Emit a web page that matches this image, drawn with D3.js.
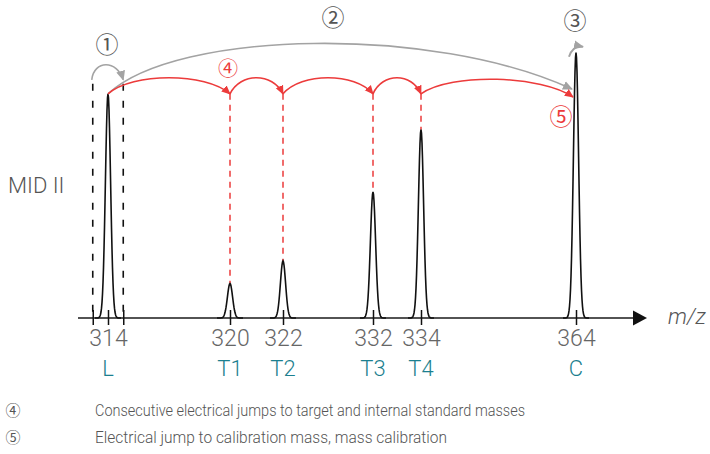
<!DOCTYPE html>
<html>
<head>
<meta charset="utf-8">
<script src="https://cdn.jsdelivr.net/npm/d3@7"></script>
<style>
  html, body { margin: 0; padding: 0; background: #fff; }
  svg { display: block; }
  .lbl { font-family: Roboto, "Liberation Sans", sans-serif; font-weight: 300; }
  .circ { font-family: "Noto Sans CJK JP", "DejaVu Sans", sans-serif; font-weight: 400; }
</style>
</head>
<body>
<svg id="chart" width="710" height="454"></svg>
<script>
// ---------------- data ----------------
const masses      = [314, 320, 322, 332, 334, 364];
const peakNames   = ["L", "T1", "T2", "T3", "T4", "C"];
const intensities = [84.5, 13, 21.5, 47.5, 71, 100];     // relative peak height (%)
const lockWindow  = [313.25, 314.75];                     // mass window around lock mass (L)
const jumpLevel   = 84.5;                                 // level of the electrical-jump arcs
const calibLevel  = 86.3;                                 // level where the magnet jump lands
const arriveLevel = 83.3;                                 // level where last electrical jump lands
const legendItems = [
  ["④", "Consecutive electrical jumps to target and internal standard masses"],
  ["⑤", "Electrical jump to calibration mass, mass calibration"]
];
const axisTitle = "m/z";
const rowLabel  = "MID II";

// ---------------- layout ----------------
const svg = d3.select("#chart");
const baseY = 318, topY = 52.7;
const slots = [108, 230, 283, 373, 421, 576];   // schematic (broken) mass axis positions
const x = d3.scaleLinear().domain(masses).range(slots);
const y = d3.scaleLinear().domain([0, 100]).range([baseY, topY]);
const RED = "#ec3b3b", GRAY = "#a3a3a3", TEAL = "#1c7f8f", TXT = "#666";

// markers
const defs = svg.append("defs");
function marker(id, color, size) {
  defs.append("marker").attr("id", id)
    .attr("viewBox", "0 0 10 10").attr("refX", 9).attr("refY", 5)
    .attr("markerWidth", size).attr("markerHeight", size)
    .attr("markerUnits", "userSpaceOnUse").attr("orient", "auto")
    .append("path").attr("d", "M0,0.5 L10,5 L0,9.5 z").attr("fill", color);
}
marker("arrRed", RED, 9);
marker("arrGray", GRAY, 10);

// lock-mass window dashed lines
svg.selectAll("line.win").data(lockWindow).join("line")
  .attr("x1", d => x(d)).attr("x2", d => x(d))
  .attr("y1", y(jumpLevel) - 10).attr("y2", baseY)
  .attr("stroke", "#111").attr("stroke-width", 1.6).attr("stroke-dasharray", "7,10");

// red dashed drop lines to target peaks
const targets = d3.range(1, 5);
svg.selectAll("line.drop").data(targets).join("line")
  .attr("x1", i => x(masses[i])).attr("x2", i => x(masses[i]))
  .attr("y1", y(jumpLevel)).attr("y2", i => y(intensities[i]))
  .attr("stroke", RED).attr("stroke-width", 1.5).attr("stroke-dasharray", "6,5");

// axis
const axisG = svg.append("g").attr("transform", `translate(0,${baseY})`);
axisG.append("line").attr("x1", 78).attr("x2", 636).attr("y1", 0).attr("y2", 0)
  .attr("stroke", "#1a1a1a").attr("stroke-width", 1.6);
axisG.append("path").attr("d", "M633,-7.5 L647,0 L633,7.5 z").attr("fill", "#111");
const axis = d3.axisBottom(x).tickValues(masses.concat(lockWindow))
  .tickFormat(d => masses.includes(d) ? d : "").tickSize(7).tickPadding(10);
const ax = axisG.append("g").call(axis);
ax.select(".domain").remove();
ax.selectAll(".tick line").attr("y1", -8).attr("y2", 7).attr("stroke", "#111").attr("stroke-width", 1.5);
ax.selectAll(".tick text").attr("class", "lbl").attr("fill", TXT)
  .attr("font-size", 23).attr("dy", "0.71em").attr("y", 12);

// peak labels
svg.selectAll("text.pname").data(peakNames).join("text")
  .attr("class", "lbl").attr("x", (d, i) => x(masses[i])).attr("y", 376)
  .attr("text-anchor", "middle").attr("font-size", 22).attr("fill", TEAL).text(d => d);

// peaks
const sigma = 2.6;
const offs = d3.range(-13, 13.01, 0.5);
const peakLine = d3.line().x(p => p[0]).y(p => p[1]);
svg.selectAll("path.peak").data(masses).join("path")
  .attr("d", (m, i) => peakLine(offs.map(dx =>
     [x(m) + dx, y(intensities[i] * Math.exp(-dx * dx / (2 * sigma * sigma)))])))
  .attr("fill", "none").attr("stroke", "#111").attr("stroke-width", 1.6);

// arcs
function arc(x0, y0, x1, y1, k, f0, f1) {
  const w = x1 - x0;
  return `M${x0},${y0} C${x0 + f0 * w},${y0 - k} ${x1 - f1 * w},${y1 - k} ${x1},${y1}`;
}
// gray magnet jump L -> C
svg.append("path")
  .attr("d", arc(x(masses[0]), y(jumpLevel), x(masses[5]) - 4, y(calibLevel), 64, 0.15, 0.3))
  .attr("fill", "none").attr("stroke", GRAY).attr("stroke-width", 1.6).attr("marker-end", "url(#arrGray)");
// red electrical jumps
const hops = d3.range(0, 5);
svg.selectAll("path.hop").data(hops).join("path")
  .attr("d", i => {
    const x0 = x(masses[i]), x1 = i === 4 ? x(masses[5]) - 3 : x(masses[i + 1]);
    const y1 = i === 4 ? y(arriveLevel) : y(jumpLevel);
    return arc(x0, y(jumpLevel), x1, y1, 21.5, 0.2, 0.2);
  })
  .attr("fill", "none").attr("stroke", RED).attr("stroke-width", 1.6).attr("marker-end", "url(#arrRed)");
// small gray arcs (scan over lock window, calibration)
const wy = y(jumpLevel) - 14;
svg.append("path")
  .attr("d", `M${x(lockWindow[0]) - 1},${wy} C${x(lockWindow[0]) + 1},${wy - 20} ${x(lockWindow[1]) - 6},${wy - 20} ${x(lockWindow[1])},${wy}`)
  .attr("fill", "none").attr("stroke", GRAY).attr("stroke-width", 1.6).attr("marker-end", "url(#arrGray)");
svg.append("path")
  .attr("d", `M${x(masses[5]) - 7},${y(100) + 4} Q${x(masses[5]) - 3},${y(100) - 8} ${x(masses[5]) + 7},${y(100) - 6}`)
  .attr("fill", "none").attr("stroke", GRAY).attr("stroke-width", 2).attr("marker-end", "url(#arrGray)");

// circled step numbers
const steps = [
  {t: "①", x: x(masses[0]) - 1, y: 45, c: "#555", s: 23},
  {t: "②", x: 333, y: 18, c: "#555", s: 23},
  {t: "③", x: x(masses[5]) - 1, y: 21, c: "#555", s: 23},
  {t: "④", x: x(masses[1]) - 2, y: 69, c: RED, s: 20},
  {t: "⑤", x: x(masses[5]) - 15, y: 117, c: RED, s: 23}
];
svg.selectAll("text.step").data(steps).join("text")
  .attr("class", "circ").attr("x", d => d.x).attr("y", d => d.y)
  .attr("dy", "0.36em").attr("text-anchor", "middle")
  .attr("font-size", d => d.s).attr("fill", d => d.c).text(d => d.t);

// row label and axis title
svg.append("text").attr("class", "lbl").attr("x", 8).attr("y", 193)
  .attr("font-size", 22).attr("fill", "#555").text(rowLabel);
svg.append("text").attr("class", "lbl").attr("x", 668).attr("y", 324)
  .attr("font-size", 22).attr("font-style", "italic").attr("fill", "#555").text(axisTitle);

// legend
const leg = svg.selectAll("g.leg").data(legendItems).join("g")
  .attr("transform", (d, i) => `translate(0,${416 + i * 27})`);
leg.append("text").attr("class", "circ").attr("x", 13).attr("y", 0)
  .attr("text-anchor", "middle").attr("font-size", 15).attr("fill", "#555").text(d => d[0]);
leg.append("text").attr("class", "lbl").attr("x", 95).attr("y", 0)
  .attr("font-size", 17).attr("fill", "#555")
  .attr("textLength", (d, i) => i === 0 ? 430 : 352).attr("lengthAdjust", "spacingAndGlyphs")
  .text(d => d[1]);
</script>
</body>
</html>
